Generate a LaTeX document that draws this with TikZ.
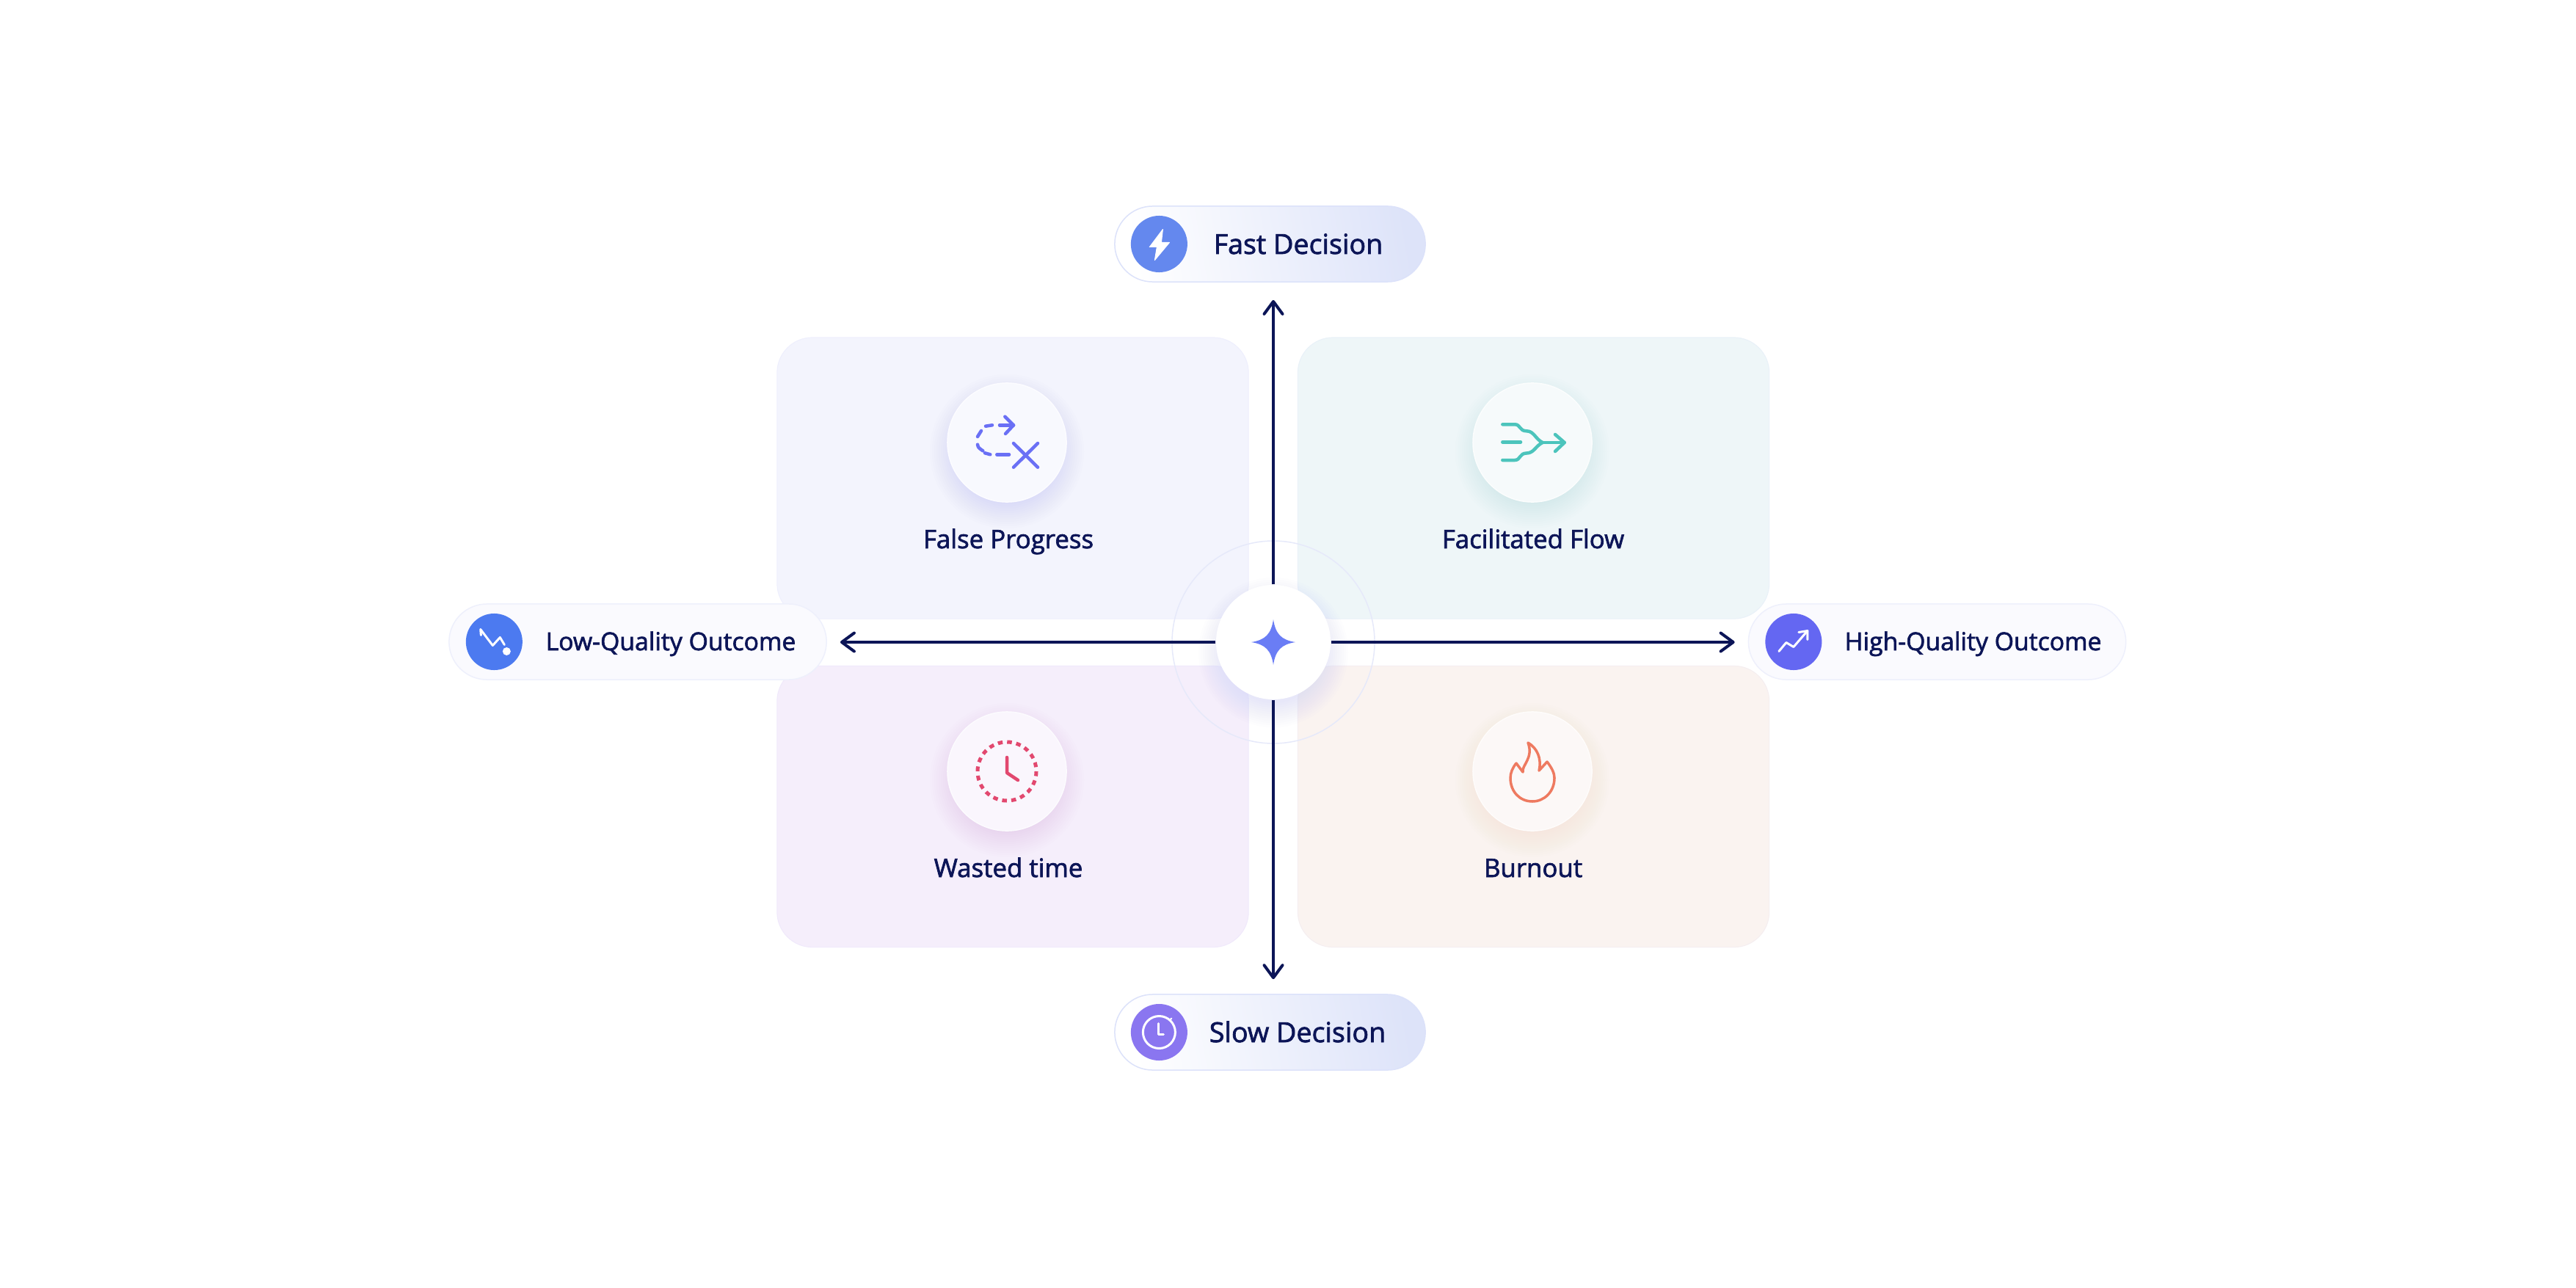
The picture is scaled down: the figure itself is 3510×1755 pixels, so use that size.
\documentclass[tikz,border=0pt]{standalone}
\usepackage{fontspec}
\setmainfont{Open Sans}[FakeBold=2]
\usetikzlibrary{arrows.meta,positioning}
\definecolor{navy}{HTML}{0C1557}
\definecolor{cardviolet}{HTML}{F3F4FD}
\definecolor{cardteal}{HTML}{EEF6F8}
\definecolor{cardlilac}{HTML}{F5EEFB}
\definecolor{cardpeach}{HTML}{FAF3F0}
\definecolor{iconviolet}{HTML}{6A70F5}
\definecolor{iconteal}{HTML}{4CC4BC}
\definecolor{iconrose}{HTML}{E2486F}
\definecolor{iconflame}{HTML}{EE7A60}
\definecolor{hubstar}{HTML}{6A7DF5}
\definecolor{pillblue}{HTML}{DDE3F9}
\definecolor{pillrim}{HTML}{DCE2FA}
\definecolor{siderim}{HTML}{EEF0FC}
\definecolor{sidefill}{HTML}{FAFAFE}
\definecolor{ringblue}{HTML}{E6E9FA}
\definecolor{fastblue}{HTML}{6488EE}
\definecolor{slowviolet}{HTML}{8A76F0}
\definecolor{lowblue}{HTML}{4C7AF0}
\definecolor{highblue}{HTML}{6467F2}
\tikzset{card/.style={rectangle,draw=#1!98!blue,fill=#1,line width=0.01cm,rounded corners=0.48cm,minimum width=6.42cm,minimum height=3.83cm,inner sep=0pt},
         disc/.style={circle,draw=white!75!#1,line width=0.015cm,fill=white!45!#1,minimum size=1.62cm,inner sep=0pt},
         cardlabel/.style={anchor=base,text=navy,font=\fontsize{9.9}{12}\selectfont,inner sep=0pt},
         pill/.style={rectangle,rounded corners=0.515cm,minimum height=1.03cm,inner sep=0pt},
         pillmain/.style={pill,draw=pillrim,line width=0.015cm,shading=axis,left color=white,right color=pillblue,shading angle=100,minimum width=4.23cm},
         pillside/.style={pill,draw=siderim,line width=0.015cm,fill=sidefill,minimum width=5.14cm},
         pilllabel/.style={anchor=base,text=navy,font=\fontsize{10.7}{12}\selectfont,inner sep=0pt},
         sidelabel/.style={anchor=base,text=navy,font=\fontsize{9.6}{12}\selectfont,inner sep=0pt},
         badge/.style={circle,fill=#1,minimum size=0.77cm,inner sep=0pt},
         hub/.style={circle,fill=white,minimum size=1.56cm,inner sep=0pt},
         ring/.style={draw=ringblue,line width=0.015cm},
         axis/.style={draw=navy,line width=0.04cm,-{Straight Barb[length=1.7mm,width=2.5mm,round]}},
         glyph/.style={draw=#1,line width=0.045cm,line cap=round,line join=round},
         glyph/.default=white
}
\newcommand{\softshadow}[4]{
  \foreach \g in {1,...,12}{
    \fill[#3,opacity=0.016] (#1) ++(0,#4) circle ({#2+3*\g-12});
  }
}

\begin{document}
\begin{tikzpicture}[x=0.01cm,y=-0.01cm]
\useasboundingbox (0,0) rectangle (3510,1755);
\fill[white] (0,0) rectangle (3510,1755);

\node[card=cardviolet] (falsecard) at (1380,651.5) {};
\node[card=cardteal] (flowcard) at (2089.5,651.5) {};
\node[card=cardlilac] (wastedcard) at (1380,1099) {};
\node[card=cardpeach] (burncard) at (2089.5,1099) {};

\coordinate (falsecentre) at (1372,603);
\coordinate (flowcentre) at (2088,603);
\coordinate (wastedcentre) at (1372,1051);
\coordinate (burncentre) at (2088,1051);

\softshadow{falsecentre}{81}{iconviolet!70}{12}
\softshadow{flowcentre}{81}{iconteal!70}{12}
\softshadow{wastedcentre}{81}{violet!45}{12}
\softshadow{burncentre}{81}{iconflame!55}{12}

\node[disc=cardviolet] (falsedisc) at (falsecentre) {};
\node[disc=cardteal] (flowdisc) at (flowcentre) {};
\node[disc=cardlilac] (wasteddisc) at (wastedcentre) {};
\node[disc=cardpeach] (burndisc) at (burncentre) {};

\node[cardlabel] (falselabel) at (1374,747) {False Progress};
\node[cardlabel] (flowlabel) at (2089,747) {Facilitated Flow};
\node[cardlabel] (wastedlabel) at (1374,1195) {Wasted time};
\node[cardlabel] (burnlabel) at (2089,1195) {Burnout};

\begin{scope}[shift={(falsedisc)}]
\draw[glyph=iconviolet] (-13.7,16.3) -- (3,16.3);
\draw[glyph=iconviolet] (-30,14.3) -- (-22.7,16.3);
\draw[glyph=iconviolet] (-40,2.7) .. controls (-39,7) .. (-32.7,11.3);
\draw[glyph=iconviolet] (-40,-8) -- (-35,-16);
\draw[glyph=iconviolet] (-29,-22.3) -- (-20,-23.7);
\draw[glyph=iconviolet] (-10,-23.7) -- (9,-23.7);
\draw[glyph=iconviolet] (-2.7,-35.3) -- (9,-23.7) -- (-2,-12);
\draw[glyph=iconviolet] (9,1) -- (42,33.7);
\draw[glyph=iconviolet] (42,1) -- (9,33.7);
\end{scope}

\begin{scope}[shift={(flowdisc)}]
\draw[glyph=iconteal] (-40.7,-24.7) -- (-24,-24.7) .. controls (-16,-24.7) and (-18,-15.7) .. (-8,-15.7) .. controls (2,-15.7) and (4,-5) .. (13.7,0);
\draw[glyph=iconteal] (-40.7,24) -- (-24,24) .. controls (-16,24) and (-18,14.5) .. (-8,14.5) .. controls (2,14.5) and (4,5) .. (13.7,0);
\draw[glyph=iconteal] (-40.7,-0.7) -- (-16,-0.7);
\draw[glyph=iconteal] (13.7,0) -- (43.7,0);
\draw[glyph=iconteal] (31,-11) -- (43.7,0) -- (31,12);
\end{scope}

\begin{scope}[shift={(wasteddisc)}]
\draw[glyph=iconrose,line cap=butt,dash pattern=on 0.065cm off 0.0607cm,line width=0.05cm] (0,0) circle (40);
\draw[glyph=iconrose] (0,-19) -- (0,2) -- (15,12);
\end{scope}

\begin{scope}[shift={(burndisc)}]
\draw[glyph=iconflame,line width=0.035cm] (-6,-39) .. controls (6,-32) and (13,-18) .. (9,-1) -- (20,-13) .. controls (27,-4) and (30,3) .. (30,9) .. controls (30,28) and (16,41) .. (0,41) .. controls (-17,41) and (-30,28) .. (-30,9) .. controls (-30,2) and (-27,-5) .. (-22,-11) -- (-13,1) .. controls (-15,-8) and (2,-18) .. (-6,-39) -- cycle;
\end{scope}

\draw[ring] (1735,875) circle (138);
\coordinate (hubcentre) at (1735,875);
\softshadow{hubcentre}{78}{iconviolet!60}{14}
\node[hub] (hub) at (hubcentre) {};
\begin{scope}[shift={(hub)}]
\fill[hubstar] (0,-31) .. controls (3,-11) and (11,-3) .. (30,0) .. controls (11,3) and (3,11) .. (0,31) .. controls (-3,11) and (-11,3) .. (-30,0) .. controls (-11,-3) and (-3,-11) .. (0,-31) -- cycle;
\end{scope}

\node[pillmain] (fast) at (1730.5,332.5) {};
\node[pillmain] (slow) at (1730.5,1406.5) {};
\node[pillside] (low) at (869,874.5) {};
\node[pillside] (high) at (2639.5,874.5) {};

\node[badge=fastblue,right=0.22cm of fast.west] (fastbadge) {};
\node[badge=slowviolet,right=0.22cm of slow.west] (slowbadge) {};
\node[badge=lowblue,right=0.23cm of low.west] (lowbadge) {};
\node[badge=highblue,right=0.23cm of high.west] (highbadge) {};

\node[pilllabel] (fastlabel) at (1769,346) {Fast Decision};
\node[pilllabel] (slowlabel) at (1768,1420) {Slow Decision};
\node[sidelabel] (lowlabel) at (914,886) {Low-Quality Outcome};
\node[sidelabel] (highlabel) at (2688.5,886) {High-Quality Outcome};

\fill[white,draw=white,line join=round,line width=0.01cm] (fastbadge) ++(5,-20) -- ++(-18,24) -- ++(10,0) -- ++(-3,18) -- ++(20,-24) -- ++(-11,0) -- cycle;

\begin{scope}[shift={(slowbadge)}]
\draw[glyph,line width=0.03cm] (0,0) circle (22);
\draw[glyph,line width=0.03cm] (-1,-12) -- (-1,3) -- (6,3);
\draw[glyph,line width=0.02cm] (15,-17) -- (17,-19);
\end{scope}

\begin{scope}[shift={(lowbadge)}]
\draw[glyph,line width=0.03cm] (-18,-9) -- (-18.6,-17) -- (-2,5) -- (8,-6) -- (14,4);
\fill[white] (17,13) circle (5.5);
\end{scope}

\begin{scope}[shift={(highbadge)}]
\draw[glyph,line width=0.03cm] (-20,13) -- (-10,1) -- (0,7) -- (19,-15);
\draw[glyph,line width=0.03cm] (7,-13) -- (19,-15) -- (19,-3);
\end{scope}

\draw[axis,shorten >=0.24cm] (hub.north) -- (hub.north |- fast.south);
\draw[axis,shorten >=0.20cm] (hub.south) -- (hub.south |- slow.north);
\draw[axis,shorten >=0.18cm] (hub.west) -- (hub.west -| low.east);
\draw[axis,shorten >=0.18cm] (hub.east) -- (hub.east -| high.west);
\end{tikzpicture}
\end{document}
